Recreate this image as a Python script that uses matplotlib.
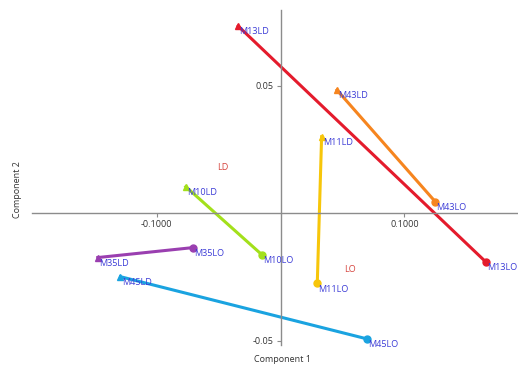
import matplotlib.pyplot as plt

names = ['M13', 'M43', 'M11', 'M10', 'M35', 'M45']
colors = ['#e41b2c', '#f6851f', '#f7c60a', '#a3e01b', '#9a3fb0', '#1aa3e0']
ld_x = [-0.0342, 0.0456, 0.0332, -0.0765, -0.1476, -0.1293]
ld_y = [0.0735, 0.0484, 0.0301, 0.0105, -0.0173, -0.0248]
lo_x = [0.1660, 0.1250, 0.0297, -0.0150, -0.0708, 0.0698]
lo_y = [-0.0191, 0.0046, -0.0274, -0.0162, -0.0134, -0.0492]

group_names = ['LD', 'LO']
group_x = [-0.0463, 0.0558]
group_y = [0.0182, -0.0218]

fig = plt.figure(figsize=(5.18, 3.66), dpi=100)
ax = fig.add_axes([32/518, 21/366, 485/518, 335/366])
ax.set_xlim(-0.2007, 0.191)
ax.set_ylim(-0.0516, 0.0798)

for i in range(len(names)):
    c = colors[i]
    ax.plot([ld_x[i], lo_x[i]], [ld_y[i], lo_y[i]], color=c, lw=2.2, zorder=2)
    ax.plot(ld_x[i], ld_y[i], marker='^', color=c, ms=5, zorder=3)
    ax.plot(lo_x[i], lo_y[i], marker='o', color=c, ms=5, zorder=3)
    ax.text(ld_x[i] + 0.001, ld_y[i] - 0.0005, names[i] + 'LD', color='#3b3bd6',
            fontsize=6.5, ha='left', va='top', family='Open Sans')
    ax.text(lo_x[i] + 0.001, lo_y[i] - 0.0005, names[i] + 'LO', color='#3b3bd6',
            fontsize=6.5, ha='left', va='top', family='Open Sans')

for g, gx, gy in zip(group_names, group_x, group_y):
    ax.text(gx, gy, g, color='#d6453f', fontsize=6.5, ha='center', va='center',
            family='Open Sans')

for s in ['top', 'right']:
    ax.spines[s].set_visible(False)
ax.spines['left'].set_position(('data', 0))
ax.spines['bottom'].set_position(('data', 0))
for s in ['left', 'bottom']:
    ax.spines[s].set_color('#8c8c8c')
    ax.spines[s].set_linewidth(1.0)

ax.set_xticks([-0.1, 0.1])
ax.set_xticklabels(['-0.1000', '0.1000'])
ax.set_yticks([0.05, -0.05])
ax.set_yticklabels(['0.05', '-0.05'])
ax.tick_params(length=3, width=0.8, color='#8c8c8c', labelsize=6.5,
               labelcolor='#333333', pad=2)
for lab in ax.get_xticklabels() + ax.get_yticklabels():
    lab.set_family('Open Sans')

fig.text(282/518, 1 - 360/366, 'Component 1', ha='center', va='center',
         fontsize=6.5, color='#333333', family='Open Sans')
fig.text(17/518, 1 - 190/366, 'Component 2', ha='center', va='center',
         rotation=90, fontsize=6.5, color='#333333', family='Open Sans')

fig.savefig('out.png', dpi=100)
